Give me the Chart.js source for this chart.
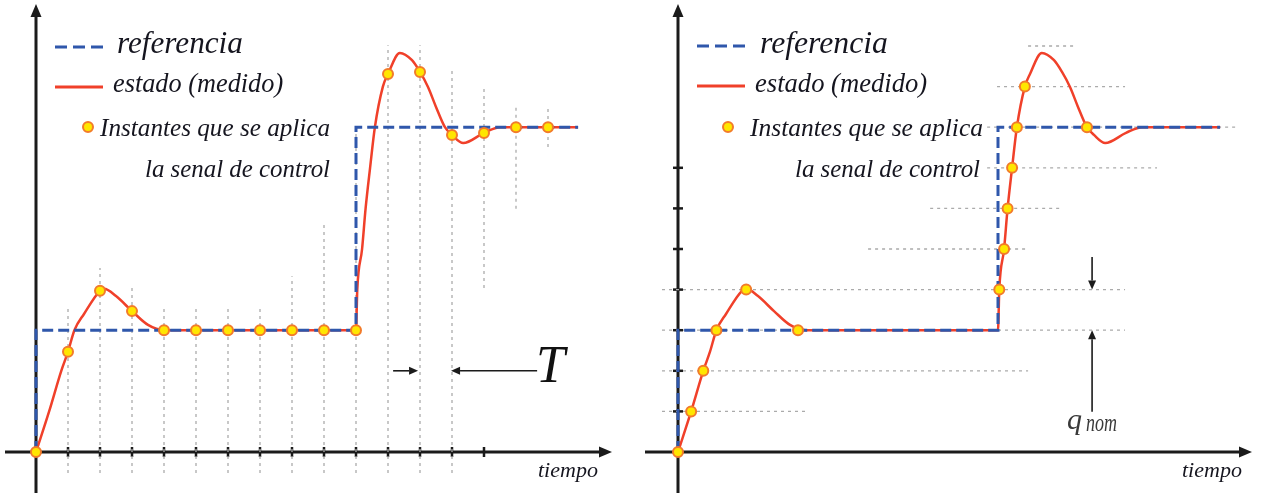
<!DOCTYPE html>
<html>
<head>
<meta charset="utf-8">
<script src="https://cdn.jsdelivr.net/npm/chart.js@4.4.1/dist/chart.umd.min.js"></script>
<style>
  html, body { margin: 0; padding: 0; background: #fff; overflow: hidden; }
  #izq { position: absolute; left: 0; top: 0; }
  #der { position: absolute; left: 640px; top: 0; }
</style>
</head>
<body>
<canvas id="izq" width="640" height="497"></canvas>
<canvas id="der" width="621" height="497"></canvas>
<script>
// tiempo en periodos T, valores en niveles q
const tiempoEstado = [0, 0.41, 0.79, 1, 1.2, 1.5, 2, 2.13, 2.5, 3, 3.5, 4, 6, 10, 10.04, 10.19, 10.3, 10.44, 10.59, 10.84, 11, 11.37, 11.75, 12, 12.25, 12.5, 12.78, 13, 13.35, 14, 14.5, 15, 16.94];
const valorEstado  = [0, 1, 2, 2.47, 3, 3.4, 3.97, 4.02, 3.84, 3.47, 3.13, 3.0, 3.0, 3.0, 4, 5, 6, 7, 8, 9, 9.31, 9.83, 9.65, 9.36, 8.99, 8.5, 8.0, 7.81, 7.61, 7.86, 8.0, 8.0, 8.0];

const tiempoRef = [0, 0, 10, 10, 16.94];
const valorRef  = [0, 3, 3, 8, 8];

// muestreo periodico (izquierda)
const muestrasIzqT = [0, 1, 2, 3, 4, 5, 6, 7, 8, 9, 10, 11, 12, 13, 14, 15, 16];
const muestrasIzqV = [0, 2.47, 3.97, 3.47, 3, 3, 3, 3, 3, 3, 3, 9.31, 9.36, 7.81, 7.86, 8, 8];

// muestreo por nivel (derecha)
const muestrasDerT = [0, 0.41, 0.79, 1.2, 2.13, 3.75, 10.04, 10.19, 10.3, 10.44, 10.59, 10.84, 12.78];
const muestrasDerV = [0, 1, 2, 3, 4, 3, 4, 5, 6, 7, 8, 9, 8];

// guias verticales izquierda
const guiasIzqT     = [1, 2, 3, 4, 5, 6, 7, 8, 9, 10, 11, 12, 13, 14, 15, 16];
const guiasIzqDesde = [-0.52, -0.52, -0.52, -0.52, -0.52, -0.52, -0.52, -0.52, -0.52, -0.52, -0.52, -0.52, -0.52, 4.04, 5.99, 7.51];
const guiasIzqHasta = [3.55, 4.53, 4.04, 3.55, 3.55, 3.55, 3.57, 4.33, 5.64, 8.0, 10.02, 10.02, 9.41, 9.04, 8.52, 8.52];

// guias horizontales derecha
const guiasDerNivel = [10, 9, 8, 7, 6, 5, 4, 3, 2, 1];
const guiasDerDesde = [10.94, 9.97, 9.66, 9.66, 7.88, 5.94, -0.5, -0.5, -0.5, -0.5];
const guiasDerHasta = [12.47, 13.97, 17.47, 14.97, 11.94, 10.94, 13.97, 13.97, 10.94, 3.97];

const ticksIzq = [1, 2, 3, 4, 5, 6, 7, 8, 9, 10, 11, 12, 13, 14];
const ticksDer = [1, 2, 3, 4, 5, 6, 7];

const PX_T = 32, PX_Q = 40.6;
const AZUL = '#2f57ab', ROJO = '#f0402a', GRIS = '#ababab', NEGRO = '#1b1b1b';
const FUENTE = '"Liberation Serif", "DejaVu Serif", serif';

const pares = (xs, ys) => xs.map((x, i) => ({ x: x, y: ys[i] }));

function guiasV(ts, a, b) {
  const d = [];
  ts.forEach((t, i) => d.push({ x: t, y: a[i] }, { x: t, y: b[i] }, { x: t, y: null }));
  return d;
}
function guiasH(niv, a, b) {
  const d = [];
  niv.forEach((q, i) => d.push({ x: a[i], y: q }, { x: b[i], y: q }, { x: b[i], y: null }));
  return d;
}

function flecha(ctx, x1, y1, x2, y2, largo, medio) {
  const ang = Math.atan2(y2 - y1, x2 - x1);
  const bx = x2 - largo * Math.cos(ang), by = y2 - largo * Math.sin(ang);
  ctx.beginPath(); ctx.moveTo(x1, y1); ctx.lineTo(bx, by); ctx.stroke();
  ctx.beginPath();
  ctx.moveTo(x2, y2);
  ctx.lineTo(bx + medio * Math.sin(ang), by - medio * Math.cos(ang));
  ctx.lineTo(bx - medio * Math.sin(ang), by + medio * Math.cos(ang));
  ctx.closePath(); ctx.fill();
}

// texto en cursiva ajustado a un ancho
function texto(ctx, s, x, base, ancho) {
  ctx.font = 'italic 100px ' + FUENTE;
  const size = 100 * ancho / ctx.measureText(s).width;
  ctx.font = 'italic ' + size.toFixed(1) + 'px ' + FUENTE;
  ctx.fillText(s, x, base);
}

function marcador(ctx, x, y) {
  ctx.beginPath(); ctx.arc(x, y, 5, 0, Math.PI * 2);
  ctx.fillStyle = '#ffe600'; ctx.fill();
  ctx.lineWidth = 2; ctx.strokeStyle = '#f27b2a'; ctx.stroke();
}

function dibujos(op) {
  return {
    id: 'dibujos',
    beforeDatasetsDraw(chart) {
      const ctx = chart.ctx, xs = chart.scales.x, ys = chart.scales.y;
      const x0 = xs.getPixelForValue(0), y0 = ys.getPixelForValue(0);
      ctx.save();
      ctx.strokeStyle = NEGRO; ctx.fillStyle = NEGRO; ctx.lineWidth = 3;
      flecha(ctx, x0, 493, x0, 4, 13, 5.5);
      flecha(ctx, 5, y0, 612, y0, 13, 5.5);
      ctx.lineWidth = 2.5;
      op.ticksX.forEach(t => {
        const x = xs.getPixelForValue(t);
        ctx.beginPath(); ctx.moveTo(x, y0 - 5); ctx.lineTo(x, y0 + 5); ctx.stroke();
      });
      op.ticksY.forEach(q => {
        const y = ys.getPixelForValue(q);
        ctx.beginPath(); ctx.moveTo(x0 - 5, y); ctx.lineTo(x0 + 5, y); ctx.stroke();
      });
      ctx.restore();
    },
    afterDatasetsDraw(chart) {
      const ctx = chart.ctx, xs = chart.scales.x, ys = chart.scales.y;
      const L = op.leyenda;
      ctx.save();
      ctx.lineWidth = 3;
      ctx.strokeStyle = AZUL; ctx.setLineDash([12, 6]);
      ctx.beginPath(); ctx.moveTo(L.x1, L.y1); ctx.lineTo(L.x2, L.y1); ctx.stroke();
      ctx.setLineDash([]);
      ctx.strokeStyle = ROJO;
      ctx.beginPath(); ctx.moveTo(L.x1, L.y2); ctx.lineTo(L.x2, L.y2); ctx.stroke();
      marcador(ctx, 88, 127);

      ctx.fillStyle = '#15151f';
      ctx.textBaseline = 'alphabetic'; ctx.textAlign = 'left';
      L.textos.forEach(t => texto(ctx, t[0], t[1], t[2], t[3]));
      texto(ctx, 'tiempo', op.tiempoX, 477, 60);

      ctx.strokeStyle = NEGRO; ctx.fillStyle = NEGRO; ctx.lineWidth = 1.6;
      op.flechas.forEach(f => {
        flecha(ctx, xs.getPixelForValue(f[0]), ys.getPixelForValue(f[1]),
               xs.getPixelForValue(f[2]), ys.getPixelForValue(f[3]), 9, 4);
      });
      if (op.extra) op.extra(ctx, xs, ys);
      ctx.restore();
    }
  };
}

function crear(id, ancho, ejeX, muestrasT, muestrasV, guias, op) {
  return new Chart(document.getElementById(id), {
    type: 'line',
    data: {
      datasets: [
        { data: pares(muestrasT, muestrasV), showLine: false, order: 0,
          pointRadius: 5, pointBorderWidth: 2, pointBackgroundColor: '#ffe600', pointBorderColor: '#f27b2a' },
        { data: pares(tiempoRef, valorRef), order: 1, borderColor: AZUL, borderWidth: 3,
          borderDash: [11, 5], pointRadius: 0, tension: 0, fill: false },
        { data: pares(tiempoEstado, valorEstado), order: 2, borderColor: ROJO, borderWidth: 2.5,
          cubicInterpolationMode: 'monotone', pointRadius: 0, fill: false },
        { data: guias, order: 3, borderColor: GRIS, borderWidth: 1.3, borderDash: [3, 4],
          pointRadius: 0, tension: 0, spanGaps: false, fill: false }
      ]
    },
    options: {
      responsive: false,
      animation: false,
      layout: { padding: 0, autoPadding: false },
      events: [],
      scales: {
        x: { type: 'linear', display: false, min: -ejeX / PX_T, max: (ancho - ejeX) / PX_T },
        y: { type: 'linear', display: false, min: -(497 - 452) / PX_Q, max: 452 / PX_Q }
      },
      plugins: { legend: { display: false }, tooltip: { enabled: false } }
    },
    plugins: [dibujos(op)]
  });
}

crear('izq', 640, 36, muestrasIzqT, muestrasIzqV, guiasV(guiasIzqT, guiasIzqDesde, guiasIzqHasta), {
  ticksX: ticksIzq, ticksY: [],
  tiempoX: 538,
  leyenda: { x1: 55, x2: 103, y1: 47, y2: 87, textos: [
    ['referencia', 117, 53, 126],
    ['estado (medido)', 113, 92, 170],
    ['Instantes que se aplica', 100, 136, 230],
    ['la senal de control', 145, 177, 185]
  ] },
  flechas: [[11.16, 2, 11.94, 2], [15.66, 2, 12.97, 2]],
  extra(ctx) {
    ctx.fillStyle = '#111';
    ctx.font = 'italic 52px ' + FUENTE;
    ctx.fillText('T', 536, 382);
  }
});

crear('der', 621, 38, muestrasDerT, muestrasDerV, guiasH(guiasDerNivel, guiasDerDesde, guiasDerHasta), {
  ticksX: [], ticksY: ticksDer,
  tiempoX: 542,
  leyenda: { x1: 57, x2: 105, y1: 46, y2: 86, textos: [
    ['referencia', 120, 53, 128],
    ['estado (medido)', 115, 92, 172],
    ['Instantes que se aplica', 110, 136, 233],
    ['la senal de control', 155, 177, 185]
  ] },
  flechas: [[12.94, 4.8, 12.94, 4.0], [12.94, 0.99, 12.94, 3.0]],
  extra(ctx) {
    ctx.fillStyle = '#3a3a3a';
    ctx.font = 'italic 30px ' + FUENTE;
    ctx.fillText('q', 427, 429);
    ctx.save();
    ctx.font = 'italic 25px ' + FUENTE;
    const w = ctx.measureText('nom').width;
    ctx.translate(446, 431);
    ctx.scale(31 / w, 1);
    ctx.fillText('nom', 0, 0);
    ctx.restore();
  }
});
</script>
</body>
</html>
